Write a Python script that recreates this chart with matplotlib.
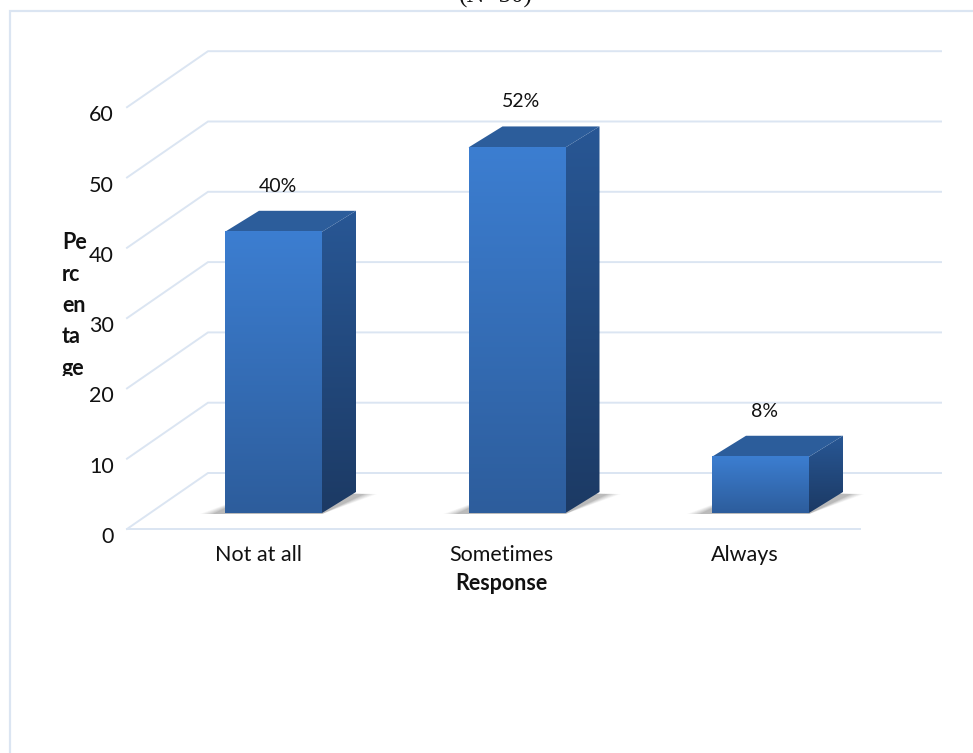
import numpy as np
import matplotlib.pyplot as plt
from matplotlib.patches import Polygon, Rectangle
from matplotlib.colors import LinearSegmentedColormap

categories = ["Not at all", "Sometimes", "Always"]
percentages = [40, 52, 8]
yticks = [0, 10, 20, 30, 40, 50, 60]

W, H = 973, 753
XU = 243.5   # pixels per category step
YU = 7.03    # pixels per percentage point
X0, Y0 = 258, 529   # pixel position of first category / zero line

GRID = "#dbe5f2"
TXT = "#111111"

fig = plt.figure(figsize=(W / 100, H / 100), dpi=100)
ax = fig.add_axes([0, 0, 1, 1])
ax.set_xlim(-X0 / XU, (W - X0) / XU)
ax.set_ylim(-(H - Y0) / YU, Y0 / YU)
ax.axis("off")

# oblique depth of the floor and of the bars (in data units)
floor_dx, floor_dy = 81 / XU, 56 / YU
wall_left = -131 / XU
floor_right = 602 / XU
bar_half = 48.5 / XU
bar_off_x, bar_off_y = 15.5 / XU, 16 / YU
bar_dx, bar_dy = 34 / XU, 21 / YU

# chart frame
fig.add_artist(Rectangle((9.5 / W, -0.05), 1.1, 1 - 11 / H + 0.05,
                         transform=fig.transFigure, fill=False,
                         edgecolor=GRID, lw=1.6))

# back wall and side wall gridlines
for v in yticks:
    ax.plot([wall_left, wall_left + floor_dx, floor_right + floor_dx],
            [v, v + floor_dy, v + floor_dy], color=GRID, lw=1.4,
            solid_joinstyle="miter", zorder=1)
# floor front edge
ax.plot([wall_left, floor_right], [0, 0], color=GRID, lw=1.4, zorder=1)

front_cmap = LinearSegmentedColormap.from_list("front", ["#2d5d9c", "#3c7ed1"])
side_cmap = LinearSegmentedColormap.from_list("side", ["#1c3a64", "#285795"])
grad = np.linspace(0, 1, 256).reshape(-1, 1)

for i, (cat, val) in enumerate(zip(categories, percentages)):
    x_l = i + bar_off_x - bar_half
    x_r = i + bar_off_x + bar_half
    y_b = bar_off_y
    y_t = bar_off_y + val

    # soft shadow on the floor
    for k, a in zip(range(6), [0.05, 0.06, 0.07, 0.08, 0.1, 0.12]):
        grow = (6 - k) * 2.5 / XU
        shadow = Polygon([(x_l - grow - 10 / XU, y_b - 1.0 / YU),
                          (x_r, y_b - 1.0 / YU),
                          (x_r + bar_dx + grow + 6 / XU, y_b + bar_dy - 2 / YU),
                          (x_l + bar_dx, y_b + bar_dy)],
                         closed=True, facecolor="#555555", edgecolor="none",
                         alpha=a, zorder=2)
        ax.add_patch(shadow)

    # side face
    side = Polygon([(x_r, y_b), (x_r + bar_dx, y_b + bar_dy),
                    (x_r + bar_dx, y_t + bar_dy), (x_r, y_t)],
                   closed=True, facecolor="none", edgecolor="none")
    ax.add_patch(side)
    im = ax.imshow(grad, cmap=side_cmap, origin="lower", aspect="auto",
                   extent=[x_r, x_r + bar_dx, y_b, y_t + bar_dy], zorder=3)
    im.set_clip_path(side)

    # top face
    ax.add_patch(Polygon([(x_l, y_t), (x_r, y_t), (x_r + bar_dx, y_t + bar_dy),
                          (x_l + bar_dx, y_t + bar_dy)], closed=True,
                         facecolor="#2c5d9b", edgecolor="none", zorder=3))

    # front face
    ax.imshow(grad, cmap=front_cmap, origin="lower", aspect="auto",
              extent=[x_l, x_r, y_b, y_t], zorder=4)

    ax.text(i + bar_off_x + 4 / XU, y_t + bar_dy + 19 / YU, f"{val}%",
            ha="center", va="baseline", fontsize=14, family="Lato",
            color=TXT, zorder=5)

    ax.text(i, -(555 - Y0) / YU, cat, ha="center", va="center",
            fontsize=15.5, family="Lato", color=TXT)

ax.text(1, -(583 - Y0) / YU, "Response", ha="center", va="center",
        fontsize=15.5, family="Lato", fontweight="bold", color=TXT)

for v in yticks:
    ax.text(-(258 - 114) / XU, v - 8 / YU, str(v), ha="right", va="center",
            fontsize=15.5, family="Lato", color=TXT)

# wrapped axis title, cut off at the bottom like the source layout
clip = Rectangle((0, (H - 376) / H), 1, 1, transform=fig.transFigure,
                 fill=False, visible=False)
fig.add_artist(clip)
for j, part in enumerate(["Pe", "rc", "en", "ta", "ge"]):
    t = fig.text(62 / W, 1 - (243 + j * 31.3) / H, part, ha="left",
                 va="center", fontsize=15.5, family="Lato",
                 fontweight="bold", color=TXT)
    t.set_clip_path(clip)

fig.text(496 / W, 1 - 3 / H, "(N=50)", ha="center", va="baseline",
         fontsize=18, family="Liberation Serif", color=TXT)

fig.savefig("out.png", dpi=100, facecolor="white")
